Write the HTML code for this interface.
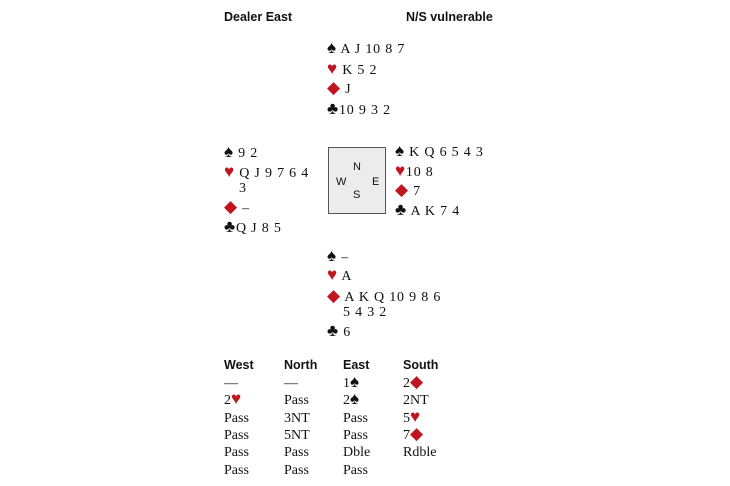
<!DOCTYPE html>
<html><head><style>
body{margin:0;width:730px;height:486px;background:#fff;position:relative;font-family:"Liberation Serif",serif;font-size:14px;color:#111}
div{position:absolute;white-space:pre;line-height:16px}
.h{font-family:"Liberation Sans",sans-serif;font-weight:bold;font-size:12.5px}
.r{color:#c0141e}
.s{font-size:17px;line-height:10px}
.box{left:328px;top:147px;width:56px;height:65px;background:#ececec;border:1px solid #555}
.c{font-family:"Liberation Sans",sans-serif;font-size:11px}
.k{letter-spacing:0.8px}
</style></head><body>
<div class="h" style="left:224px;top:9px">Dealer East</div>
<div class="h" style="left:406px;top:9px">N/S vulnerable</div>

<div class="k" style="left:327px;top:42px"><span class="s">♠</span> A J 10 8 7</div>
<div class="k" style="left:327px;top:63px"><span class="s r">♥</span> K 5 2</div>
<div class="k" style="left:327px;top:82px"><span class="s r">◆</span> J</div>
<div class="k" style="left:327px;top:103px"><span class="s">♣</span>10 9 3 2</div>

<div class="k" style="left:224px;top:146px"><span class="s">♠</span> 9 2</div>
<div class="k" style="left:224px;top:166px"><span class="s r">♥</span> Q J 9 7 6 4</div>
<div class="k" style="left:239px;top:181px">3</div>
<div class="k" style="left:224px;top:201px"><span class="s r">◆</span> –</div>
<div class="k" style="left:224px;top:221px"><span class="s">♣</span>Q J 8 5</div>

<div class="box"></div>
<div class="c" style="left:353px;top:159px">N</div>
<div class="c" style="left:336px;top:174px">W</div>
<div class="c" style="left:372px;top:174px">E</div>
<div class="c" style="left:353px;top:187px">S</div>

<div class="k" style="left:395px;top:145px"><span class="s">♠</span> K Q 6 5 4 3</div>
<div class="k" style="left:395px;top:165px"><span class="s r">♥</span>10 8</div>
<div class="k" style="left:395px;top:184px"><span class="s r">◆</span> 7</div>
<div class="k" style="left:395px;top:204px"><span class="s">♣</span> A K 7 4</div>

<div class="k" style="left:327px;top:250px"><span class="s">♠</span> –</div>
<div class="k" style="left:327px;top:269px"><span class="s r">♥</span> A</div>
<div class="k" style="left:327px;top:290px"><span class="s r">◆</span> A K Q 10 9 8 6</div>
<div class="k" style="left:343px;top:305px">5 4 3 2</div>
<div class="k" style="left:327px;top:325px"><span class="s">♣</span> 6</div>

<div class="h" style="left:224px;top:357px">West</div>
<div class="h" style="left:284px;top:357px">North</div>
<div class="h" style="left:343px;top:357px">East</div>
<div class="h" style="left:403px;top:357px">South</div>

<div style="left:224px;top:376px">—</div>
<div style="left:224px;top:393px">2<span class="r s">♥</span></div>
<div style="left:224px;top:411px">Pass</div>
<div style="left:224px;top:428px">Pass</div>
<div style="left:224px;top:445px">Pass</div>
<div style="left:224px;top:463px">Pass</div>

<div style="left:284px;top:376px">—</div>
<div style="left:284px;top:393px">Pass</div>
<div style="left:284px;top:411px">3NT</div>
<div style="left:284px;top:428px">5NT</div>
<div style="left:284px;top:445px">Pass</div>
<div style="left:284px;top:463px">Pass</div>

<div style="left:343px;top:376px">1<span class="s">♠</span></div>
<div style="left:343px;top:393px">2<span class="s">♠</span></div>
<div style="left:343px;top:411px">Pass</div>
<div style="left:343px;top:428px">Pass</div>
<div style="left:343px;top:445px">Dble</div>
<div style="left:343px;top:463px">Pass</div>

<div style="left:403px;top:376px">2<span class="r s">◆</span></div>
<div style="left:403px;top:393px">2NT</div>
<div style="left:403px;top:411px">5<span class="r s">♥</span></div>
<div style="left:403px;top:428px">7<span class="r s">◆</span></div>
<div style="left:403px;top:445px">Rdble</div>
</body></html>
